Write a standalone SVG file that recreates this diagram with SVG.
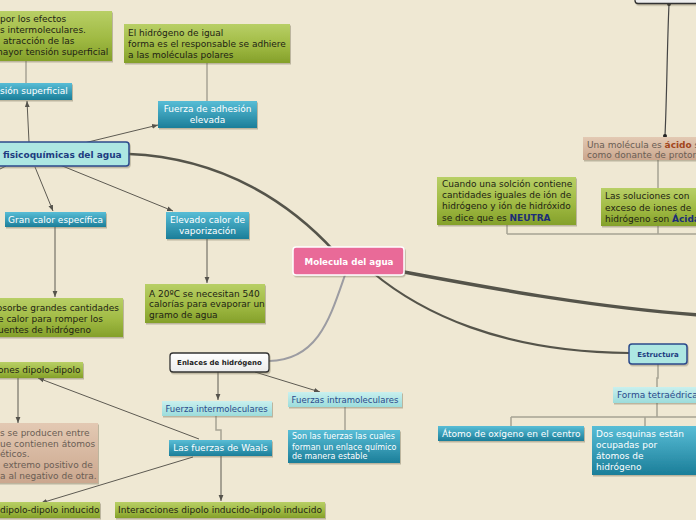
<svg xmlns="http://www.w3.org/2000/svg" width="696" height="520" viewBox="0 0 696 520">
<defs>
<linearGradient id="gG" x1="0" y1="0" x2="0" y2="1"><stop offset="0" stop-color="#b8cf66"/><stop offset="0.55" stop-color="#a0ba43"/><stop offset="1" stop-color="#84a02a"/></linearGradient>
<linearGradient id="gB" x1="0" y1="0" x2="0" y2="1"><stop offset="0" stop-color="#58bdd6"/><stop offset="1" stop-color="#1b7e99"/></linearGradient>
<linearGradient id="gC" x1="0" y1="0" x2="0" y2="1"><stop offset="0" stop-color="#c9f0ee"/><stop offset="1" stop-color="#9cdcdb"/></linearGradient>
<linearGradient id="gT" x1="0" y1="0" x2="0" y2="1"><stop offset="0" stop-color="#e3c9b3"/><stop offset="1" stop-color="#cba78e"/></linearGradient>
<linearGradient id="gW" x1="0" y1="0" x2="0" y2="1"><stop offset="0" stop-color="#ffffff"/><stop offset="1" stop-color="#ebebeb"/></linearGradient>
<filter id="sh" x="-5%" y="-10%" width="115%" height="150%"><feDropShadow dx="1" dy="1.5" stdDeviation="0.6" flood-color="#6f6650" flood-opacity="0.4"/></filter>
<marker id="ar" viewBox="0 0 10 10" refX="10" refY="5" markerWidth="6" markerHeight="6" orient="auto" markerUnits="userSpaceOnUse"><path d="M0,1 L10,5 L0,9 z" fill="#55534c"/></marker>
</defs>
<style>
text{font-family:"DejaVu Sans",Verdana,sans-serif;font-size:9px}
.g{fill:url(#gG);filter:url(#sh)}
.b{fill:url(#gB);filter:url(#sh)}
.c{fill:url(#gC);filter:url(#sh)}
.t{fill:url(#gT);filter:url(#sh)}
.m{fill:#ade7e2;stroke:#2b4a8b;stroke-width:1.5;filter:url(#sh)}
.w{fill:url(#gW);stroke:#333;stroke-width:1.3;filter:url(#sh)}
.p{fill:#e96b98;stroke:#fff;stroke-width:1.5;filter:url(#sh)}
.td{fill:#1e1e14}
.tw{fill:#fff}
.tb{fill:#2a4a8c;font-size:8.5px}
.tt{fill:#6a5d54}
.bold{font-weight:bold}
.h{fill:none;stroke:#a7a394;stroke-width:1.5}
.a{fill:none;stroke:#5d5a52;stroke-width:1;marker-end:url(#ar)}
.k{fill:none;stroke:#55544a;stroke-linecap:round}
</style>
<rect width="696" height="520" fill="#efe8d3"/>
<g id="connectors">
<path class="h" d="M26,61 V83"/>
<path class="h" d="M207,63 V101"/>
<path class="a" d="M29,142 L27,101"/>
<path class="a" d="M84,143 L158,125"/>
<path class="a" d="M35,167 L53,211"/>
<path class="a" d="M60,165 L173,211"/>
<path class="a" style="marker-end:none" d="M6,166 L-4,171"/>
<path class="k" stroke-width="2.5" d="M129,154 C225,158 292,205 335,252"/>
<path class="a" d="M55,227 V297"/>
<path class="a" d="M207,239 V283"/>
<path fill="none" stroke="#9c9ca2" stroke-width="2" d="M345,275 C330,318 318,360 269,361"/>
<path class="k" stroke-width="3.5" d="M404,272 C500,290 600,308 700,315"/>
<path class="k" stroke-width="2.2" d="M372,272 C420,312 500,352 629,353"/>
<path class="a" d="M218,372 V400"/>
<path class="a" d="M255,372 L320,392"/>
<path class="h" d="M345,407 V430"/>
<path class="h" d="M216,416 V430 H221 V440"/>
<path class="a" d="M221,456 V501"/>
<path class="a" d="M193,457 L41,503"/>
<path class="a" d="M199,439 L38,378"/>
<path class="a" d="M18,378 V423"/>
<path class="h" d="M658,364 V378 H657 V387"/>
<path class="h" d="M657,403 V417 M511,417 H700 M511,417 V426 M645,417 V426"/>
<path class="h" d="M658,160 V234 M507,234 H700 M507,225 V234"/>
<path fill="none" stroke="#444" stroke-width="1.2" d="M669,4 C667,50 667,90 665,136"/>
<circle cx="669" cy="4" r="2" fill="#222"/>
<circle cx="665" cy="136" r="2" fill="#222"/>
</g>
<g id="n-top-right"><rect class="w" x="635" y="-20" width="80" height="23.5" rx="3"/></g>
<g id="n-tension-text">
<rect class="g" x="-5" y="11" width="117" height="50"/>
<text class="td"><tspan x="0" y="21.5">por los efectos</tspan><tspan x="0" y="33">s intermoleculares.</tspan><tspan x="3" y="44">atracción de las</tspan><tspan x="-6" y="55">mayor tensión superficial</tspan></text>
</g>
<g id="n-hidrogeno-igual">
<rect class="g" x="124" y="24" width="166" height="39"/>
<text class="td"><tspan x="128" y="36">El hidrógeno de igual</tspan><tspan x="128" y="47">forma es el responsable se adhiere</tspan><tspan x="128" y="58">a las moléculas polares</tspan></text>
</g>
<g id="n-adhesion">
<rect class="b" x="158" y="101" width="99" height="27"/>
<text class="tw" text-anchor="middle"><tspan x="207.5" y="112">Fuerza de adhesión</tspan><tspan x="207.5" y="123">elevada</tspan></text>
</g>
<g id="n-tension">
<rect class="b" x="-5" y="83" width="77" height="17"/>
<text class="tw" x="0" y="94">sión superficial</text>
</g>
<g id="n-propiedades">
<rect class="m" x="-5" y="142" width="134" height="24" rx="3"/>
<text class="bold" fill="#1d3c80" x="3" y="157.5">fisicoquímicas del agua</text>
</g>
<g id="n-gran-calor">
<rect class="b" x="5" y="212" width="101" height="15"/>
<text class="tw" text-anchor="middle" x="55.5" y="223">Gran calor específica</text>
</g>
<g id="n-elevado">
<rect class="b" x="166" y="212" width="83" height="27"/>
<text class="tw" text-anchor="middle"><tspan x="207.5" y="222.5">Elevado calor de</tspan><tspan x="207.5" y="234">vaporización</tspan></text>
</g>
<g id="n-absorbe">
<rect class="g" x="-5" y="298" width="128" height="39"/>
<text class="td"><tspan x="-3.5" y="310.5">bsorbe grandes cantidades</tspan><tspan x="-2" y="321.5">e calor para romper los</tspan><tspan x="-2" y="332.5">uentes de hidrógeno</tspan></text>
</g>
<g id="n-540">
<rect class="g" x="145" y="284" width="120" height="39"/>
<text class="td"><tspan x="149" y="296.5">A 20ºC se necesitan 540</tspan><tspan x="149" y="307">calorías para evaporar un</tspan><tspan x="149" y="317.5">gramo de agua</tspan></text>
</g>
<g id="n-molecula">
<rect class="p" x="293" y="247" width="111" height="28" rx="3"/>
<text class="tw bold" style="font-size:8.7px" text-anchor="middle" x="349" y="265">Molecula del agua</text>
</g>
<g id="n-enlaces">
<rect class="w" x="170" y="353" width="99" height="19" rx="3"/>
<text class="bold" fill="#222" style="font-size:7px" text-anchor="middle" x="219.5" y="365">Enlaces de hidrógeno</text>
</g>
<g id="n-dipolo-dipolo">
<rect class="g" x="-5" y="362" width="88" height="16"/>
<text class="td" x="-2" y="373">ones dipolo-dipolo</text>
</g>
<g id="n-tan">
<rect class="t" x="-5" y="423" width="103" height="60"/>
<text class="tt"><tspan x="0" y="435.5">s se producen entre</tspan><tspan x="0" y="446.5">ue contienen átomos</tspan><tspan x="0" y="457">éticos.</tspan><tspan x="3" y="468">extremo positivo de</tspan><tspan x="0" y="479">a al negativo de otra.</tspan></text>
</g>
<g id="n-inter">
<rect class="c" x="162" y="401" width="110" height="15"/>
<text class="tb" text-anchor="middle" x="216.5" y="412">Fuerza intermoleculares</text>
</g>
<g id="n-intra">
<rect class="c" x="288" y="392" width="114" height="15"/>
<text class="tb" text-anchor="middle" x="345" y="402.5">Fuerzas intramoleculares</text>
</g>
<g id="n-son-las">
<rect class="b" x="288" y="430" width="112" height="33"/>
<text class="tw" style="font-size:8px"><tspan x="292" y="439">Son las fuerzas las cuales</tspan><tspan x="292" y="449.5">forman un enlace químico</tspan><tspan x="292" y="459">de manera estable</tspan></text>
</g>
<g id="n-waals">
<rect class="b" x="169" y="440" width="103" height="16"/>
<text class="tw" text-anchor="middle" x="220.5" y="451">Las fuerzas de Waals</text>
</g>
<g id="n-inducido-inducido">
<rect class="g" x="115" y="502" width="210" height="16"/>
<text class="td" text-anchor="middle" x="220" y="512.5">Interacciones dipolo inducido-dipolo inducido</text>
</g>
<g id="n-dipolo-inducido">
<rect class="g" x="-5" y="502" width="105" height="16"/>
<text class="td" x="0" y="512.5">dipolo-dipolo inducido</text>
</g>
<g id="n-acido">
<rect class="t" x="583" y="137" width="120" height="23"/>
<text class="tt"><tspan x="587" y="147.5">Una molécula es <tspan class="bold" fill="#a2461c">ácido</tspan> s</tspan><tspan x="587" y="158">como donante de proton</tspan></text>
</g>
<g id="n-neutra">
<rect class="g" x="437" y="177" width="139" height="48"/>
<text class="td"><tspan x="442" y="186.5">Cuando una solción contiene</tspan><tspan x="442" y="197.5">cantidades iguales de ión de</tspan><tspan x="442" y="209">hidrógeno y ión de hidróxido</tspan><tspan x="442" y="220.5">se dice que es <tspan class="bold" fill="#1c2c78">NEUTRA</tspan></tspan></text>
</g>
<g id="n-acidas">
<rect class="g" x="601" y="188" width="102" height="38"/>
<text class="td"><tspan x="605" y="199">Las soluciones con</tspan><tspan x="605" y="210.5">exceso de iones de</tspan><tspan x="605" y="221.5">hidrógeno son <tspan class="bold" fill="#1c2c78">Ácida</tspan></tspan></text>
</g>
<g id="n-estructura">
<rect class="m" x="629" y="344" width="58" height="20" rx="3"/>
<text class="bold" fill="#1d3c80" style="font-size:7px" text-anchor="middle" x="658" y="356.5">Estructura</text>
</g>
<g id="n-tetraedrica">
<rect class="c" x="613" y="387" width="90" height="16"/>
<text class="tb" style="font-size:9px" x="617" y="398">Forma tetraédrica</text>
</g>
<g id="n-oxigeno">
<rect class="b" x="438" y="426" width="146" height="15"/>
<text class="tw" x="442" y="437">Átomo de oxígeno en el centro</text>
</g>
<g id="n-esquinas">
<rect class="b" x="592" y="426" width="110" height="49"/>
<text class="tw"><tspan x="596" y="437">Dos esquinas están</tspan><tspan x="596" y="448">ocupadas por</tspan><tspan x="596" y="459">átomos de</tspan><tspan x="596" y="470">hidrógeno</tspan></text>
</g>
</svg>
